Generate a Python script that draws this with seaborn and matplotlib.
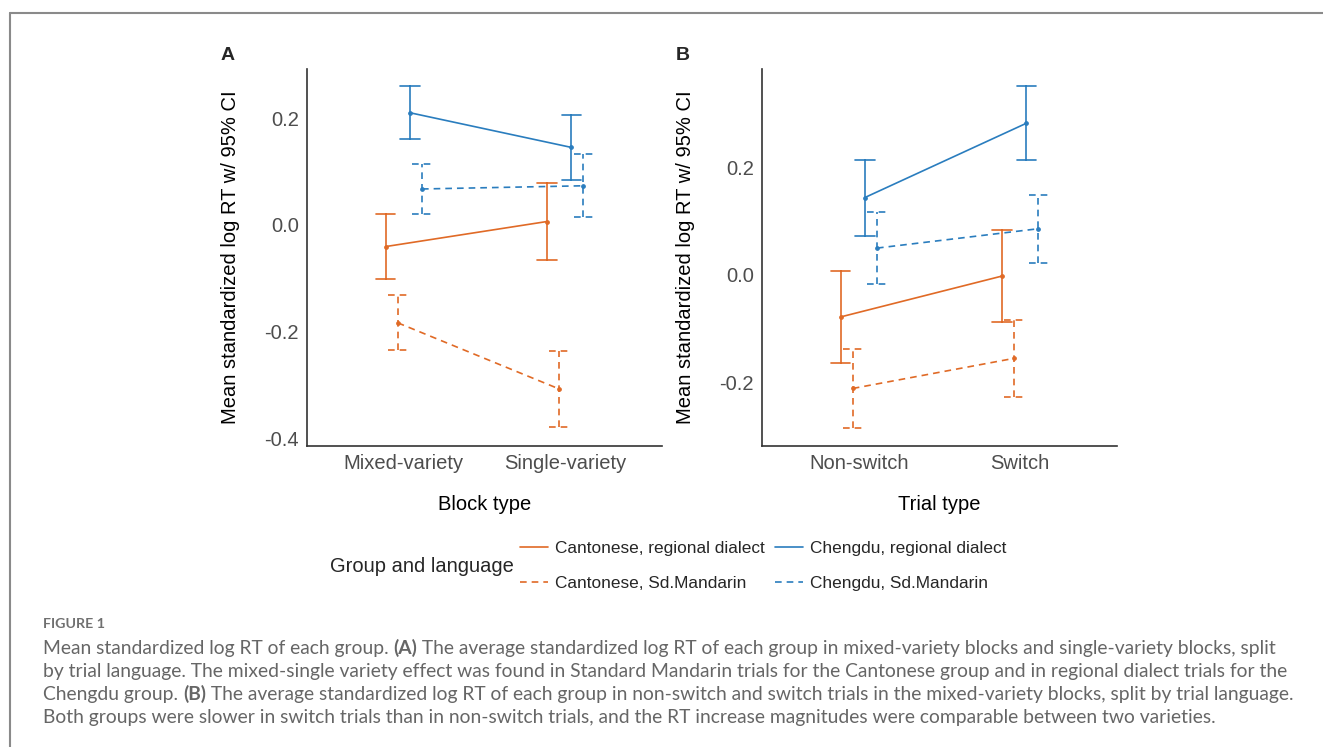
import matplotlib
matplotlib.use("Agg")
import matplotlib.pyplot as plt
from matplotlib.lines import Line2D
from matplotlib.transforms import IdentityTransform
import pandas as pd
import seaborn as sns

# categories
block_types = ["Mixed-variety", "Single-variety"]
trial_types = ["Non-switch", "Switch"]
groups = [
    "Cantonese, regional dialect",
    "Cantonese, Sd.Mandarin",
    "Chengdu, regional dialect",
    "Chengdu, Sd.Mandarin",
]

# panel A (block type): mean, lower and upper 95% CI
a_cant_reg_mean = [-0.041, 0.006]
a_cant_reg_low = [-0.101, -0.066]
a_cant_reg_high = [0.020, 0.078]
a_cant_sd_mean = [-0.184, -0.308]
a_cant_sd_low = [-0.235, -0.380]
a_cant_sd_high = [-0.132, -0.237]
a_chen_reg_mean = [0.210, 0.145]
a_chen_reg_low = [0.160, 0.084]
a_chen_reg_high = [0.260, 0.206]
a_chen_sd_mean = [0.067, 0.073]
a_chen_sd_low = [0.021, 0.014]
a_chen_sd_high = [0.113, 0.133]

# panel B (trial type)
b_cant_reg_mean = [-0.078, -0.002]
b_cant_reg_low = [-0.164, -0.087]
b_cant_reg_high = [0.008, 0.083]
b_cant_sd_mean = [-0.211, -0.155]
b_cant_sd_low = [-0.285, -0.226]
b_cant_sd_high = [-0.138, -0.084]
b_chen_reg_mean = [0.144, 0.282]
b_chen_reg_low = [0.073, 0.213]
b_chen_reg_high = [0.214, 0.352]
b_chen_sd_mean = [0.050, 0.086]
b_chen_sd_low = [-0.017, 0.023]
b_chen_sd_high = [0.117, 0.149]

yticks_a = [-0.4, -0.2, 0.0, 0.2]
yticks_b = [-0.2, 0.0, 0.2]

ORANGE = "#E06A26"
BLUE = "#2A7DBE"
palette = {groups[0]: ORANGE, groups[1]: ORANGE, groups[2]: BLUE, groups[3]: BLUE}
DASH = (0, (4, 3))


def long_table(cats, means, lows, highs):
    # three rows per point (low, mean, high) -> median = mean, full range = CI
    rows = []
    for g, m, lo, hi in zip(groups, means, lows, highs):
        for i, c in enumerate(cats):
            for v in (lo[i], m[i], hi[i]):
                rows.append({"cat": c, "group": g, "value": v})
    return pd.DataFrame(rows)


df_a = long_table(
    block_types,
    [a_cant_reg_mean, a_cant_sd_mean, a_chen_reg_mean, a_chen_sd_mean],
    [a_cant_reg_low, a_cant_sd_low, a_chen_reg_low, a_chen_sd_low],
    [a_cant_reg_high, a_cant_sd_high, a_chen_reg_high, a_chen_sd_high],
)
df_b = long_table(
    trial_types,
    [b_cant_reg_mean, b_cant_sd_mean, b_chen_reg_mean, b_chen_sd_mean],
    [b_cant_reg_low, b_cant_sd_low, b_chen_reg_low, b_chen_sd_low],
    [b_cant_reg_high, b_cant_sd_high, b_chen_reg_high, b_chen_sd_high],
)

sns.set_style("white")
plt.rcParams["font.family"] = ["Liberation Sans", "DejaVu Sans"]

W, H = 1323, 747
fig = plt.figure(figsize=(W / 100, H / 100), dpi=100)


def px_axes(left, top, right, bottom):
    return fig.add_axes([left / W, 1 - bottom / H, (right - left) / W, (bottom - top) / H])


def draw_panel(ax, df, cats, yticks, ylim, xlabel):
    for key, ls in (("regional", "-"), ("Sd.", DASH)):
        sub = df[df["group"].str.contains(key, regex=False)]
        sns.pointplot(
            data=sub, x="cat", y="value", hue="group",
            order=cats, hue_order=groups, palette=palette,
            estimator="median", errorbar=("pi", 100),
            dodge=0.225, capsize=0.12,
            markers="o", markersize=2.5, linestyles=ls, linewidth=1.2,
            err_kws={"linestyle": ls, "linewidth": 1.2},
            legend=False, ax=ax,
        )
    ax.set_xlim(-0.6, 1.6)
    ax.set_ylim(*ylim)
    ax.set_yticks(yticks)
    ax.set_yticklabels([f"{v:.1f}" for v in yticks])
    ax.tick_params(length=0, labelsize=14.5, labelcolor="#4d4d4d", pad=6)
    sns.despine(ax=ax)
    for s in ("left", "bottom"):
        ax.spines[s].set_color("#333333")
        ax.spines[s].set_linewidth(1.2)
    ax.set_ylabel("Mean standardized log RT w/ 95% CI", fontsize=14.5, color="black")
    ax.yaxis.set_label_coords(-0.19, 0.5)
    ax.set_xlabel(xlabel, fontsize=14.5, color="black")
    ax.xaxis.set_label_coords(0.5, -0.13)


ax_a = px_axes(307, 69, 662, 446)
draw_panel(ax_a, df_a, block_types, yticks_a, (-0.415, 0.292), "Block type")
ax_b = px_axes(762, 69, 1117, 446)
draw_panel(ax_b, df_b, trial_types, yticks_b, (-0.318, 0.383), "Trial type")

fig.text(228 / W, 1 - 56 / H, "A", fontsize=14, fontweight="bold", ha="center", va="center")
fig.text(683 / W, 1 - 56 / H, "B", fontsize=14, fontweight="bold", ha="center", va="center")

# legend
fig.text(330 / W, 1 - 566 / H, "Group and language", fontsize=14.5, ha="left", va="center")
handles = [
    Line2D([], [], color=ORANGE, lw=1.2, ls="-"),
    Line2D([], [], color=ORANGE, lw=1.2, ls=DASH),
    Line2D([], [], color=BLUE, lw=1.2, ls="-"),
    Line2D([], [], color=BLUE, lw=1.2, ls=DASH),
]
fig.legend(
    handles, groups, ncol=2, loc="center left",
    bbox_to_anchor=(520 / W, 1 - 566 / H), frameon=False,
    fontsize=12.4, handlelength=1.65, handletextpad=0.4,
    columnspacing=0.55, labelspacing=1.15, borderpad=0, borderaxespad=0,
)

# caption below the chart
cap_font = ["Lato", "DejaVu Sans"]
cap_color = "#666666"
renderer = fig.canvas.get_renderer()


def rich_line(x, y_top, pieces, size=13.9, color=cap_color):
    for text, weight in pieces:
        t = fig.text(x, H - y_top, text, transform=IdentityTransform(),
                     family=cap_font, fontsize=size, fontweight=weight,
                     color=color, ha="left", va="baseline")
        x = t.get_window_extent(renderer=renderer).x1


rich_line(43, 628, [("FIGURE 1", "bold")], size=10.3, color="#707070")
rich_line(43, 654, [
    ("Mean standardized log RT of each group. ", "normal"), ("(A)", "bold"),
    (" The average standardized log RT of each group in mixed-variety blocks and single-variety blocks, split", "normal"),
])
rich_line(43, 677, [
    ("by trial language. The mixed-single variety effect was found in Standard Mandarin trials for the Cantonese group and in regional dialect trials for the", "normal"),
])
rich_line(43, 700, [
    ("Chengdu group. ", "normal"), ("(B)", "bold"),
    (" The average standardized log RT of each group in non-switch and switch trials in the mixed-variety blocks, split by trial language.", "normal"),
])
rich_line(43, 723, [
    ("Both groups were slower in switch trials than in non-switch trials, and the RT increase magnitudes were comparable between two varieties.", "normal"),
])

# frame (only left and top edges are visible in the crop)
fig.add_artist(Line2D([9.5 / W, 9.5 / W], [0, 1 - 12.5 / H], color="#8a8a8a", lw=1.5))
fig.add_artist(Line2D([9.5 / W, 1], [1 - 12.5 / H, 1 - 12.5 / H], color="#8a8a8a", lw=1.5))

fig.savefig("out.png", dpi=100)
